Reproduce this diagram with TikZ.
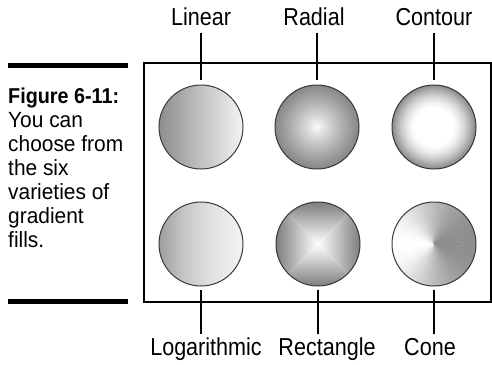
\documentclass[tikz,border=0pt]{standalone}
\usepackage{fontspec}
\setmainfont{Liberation Sans}
\newfontfamily\labfont[FakeStretch=0.88]{Liberation Sans}
\newfontfamily\capnarrow[FakeStretch=0.92]{Liberation Sans}
\newfontfamily\captext[FakeStretch=0.95]{Liberation Sans}
\definecolor{rimgray}{HTML}{3A3A3A}
\definecolor{lingray}{HTML}{8E8E8E}
\definecolor{linlight}{HTML}{F4F4F4}
\definecolor{rectgray}{HTML}{7E7E7E}
\definecolor{rectmid}{HTML}{B4B4B4}
\definecolor{conegray}{HTML}{8E8E8E}
\pgfdeclarehorizontalshading{logsh}{100bp}{color(0bp)=(white!62!black); color(25bp)=(white!62!black); color(40bp)=(white!78!black); color(55bp)=(white!88!black); color(75bp)=(white!95!black); color(100bp)=(white!98!black)}
\tikzset{
  ball/.style={circle, minimum size=84pt, inner sep=0pt, draw=rimgray, line width=1pt},
  lab/.style={font=\labfont\fontsize{24.5}{28}\selectfont, anchor=base, inner sep=0pt},
  capline/.style={font=\captext\fontsize{22}{24}\selectfont, anchor=base west, inner sep=0pt},
  conn/.style={line width=1.2pt, black},
  bar/.style={line width=5pt, black}
}
\begin{document}
\begin{tikzpicture}[x=1pt, y=-1pt]
\useasboundingbox (0,0) rectangle (492,364);
% caption
\draw[bar] (8,65) -- (128,65);
\draw[bar] (8,301) -- (128,301);
\node[capline, font=\capnarrow\bfseries\fontsize{21.5}{24}\selectfont] (t1) at (8,103) {Figure 6-11:};
\node[capline] (t2) at (8,127) {You can};
\node[capline] (t3) at (8,151) {choose from};
\node[capline] (t4) at (8,175) {the six};
\node[capline] (t5) at (8,199) {varieties of};
\node[capline] (t6) at (8,223) {gradient};
\node[capline] (t7) at (8,247) {fills.};
% frame
\draw[line width=1.2pt] (144,63) rectangle (491,302);
% balls
\node[ball, left color=lingray, right color=linlight] (c1) at (201,127) {};
\node[ball, path picture={
  \coordinate (C) at (path picture bounding box.center);
  \foreach \r in {43,42.5,...,0.5}{
    \pgfmathsetmacro\pw{100-47*(\r/42)^0.85}
    \fill[white!\pw!black] (C) circle[radius=\r];
  }
}] (c2) at (317,127) {};
\node[ball, path picture={
  \coordinate (C) at (path picture bounding box.center);
  \foreach \r in {43,42.5,...,0.5}{
    \pgfmathsetmacro\pw{100-46*(max(0.0001,(\r/42-0.45)/0.55))^1.5}
    \fill[white!\pw!black] (C) circle[radius=\r];
  }
}] (c3) at (434,127) {};
\node[ball, shading=logsh] (c4) at (201,244) {};
\node[ball, path picture={
  \coordinate (C) at (path picture bounding box.center);
  \shade[top color=rectgray, middle color=rectmid, bottom color=white] (path picture bounding box.north west) -- (path picture bounding box.north east) -- (C) -- cycle;
  \shade[bottom color=rectgray, middle color=rectmid, top color=white] (path picture bounding box.south west) -- (path picture bounding box.south east) -- (C) -- cycle;
  \shade[left color=rectgray, middle color=rectmid, right color=white] (path picture bounding box.north west) -- (path picture bounding box.south west) -- (C) -- cycle;
  \shade[right color=rectgray, middle color=rectmid, left color=white] (path picture bounding box.north east) -- (path picture bounding box.south east) -- (C) -- cycle;
}] (c5) at (318,244) {};
\node[ball, path picture={
  \coordinate (C) at (path picture bounding box.center);
  \foreach \ang in {0,3,...,357}{
    \pgfmathsetmacro\pw{100*((1-cos(\ang+1.5))/2)^1.3}
    \fill[white!\pw!conegray, draw=white!\pw!conegray, line width=0.4pt] (C) -- +(\ang:46) -- +(\ang+3:46) -- cycle;
  }
}] (c6) at (434,244) {};
% labels
\node[lab] (l1) at (201,25) {Linear};
\node[lab] (l2) at (314,25) {Radial};
\node[lab] (l3) at (434,25) {Contour};
\node[lab] (l4) at (206,355) {Logarithmic};
\node[lab] (l5) at (327,355) {Rectangle};
\node[lab] (l6) at (430,355) {Cone};
% connectors
\draw[conn] ([yshift=5pt]c1.north) -- ([yshift=52pt]c1.north);
\draw[conn] ([yshift=5pt]c2.north) -- ([yshift=52pt]c2.north);
\draw[conn] ([yshift=5pt]c3.north) -- ([yshift=52pt]c3.north);
\draw[conn] ([yshift=-3pt]c4.south) -- ([yshift=-47pt]c4.south);
\draw[conn] ([yshift=-3pt]c5.south) -- ([yshift=-47pt]c5.south);
\draw[conn] ([yshift=-3pt]c6.south) -- ([yshift=-47pt]c6.south);
\end{tikzpicture}
\end{document}
